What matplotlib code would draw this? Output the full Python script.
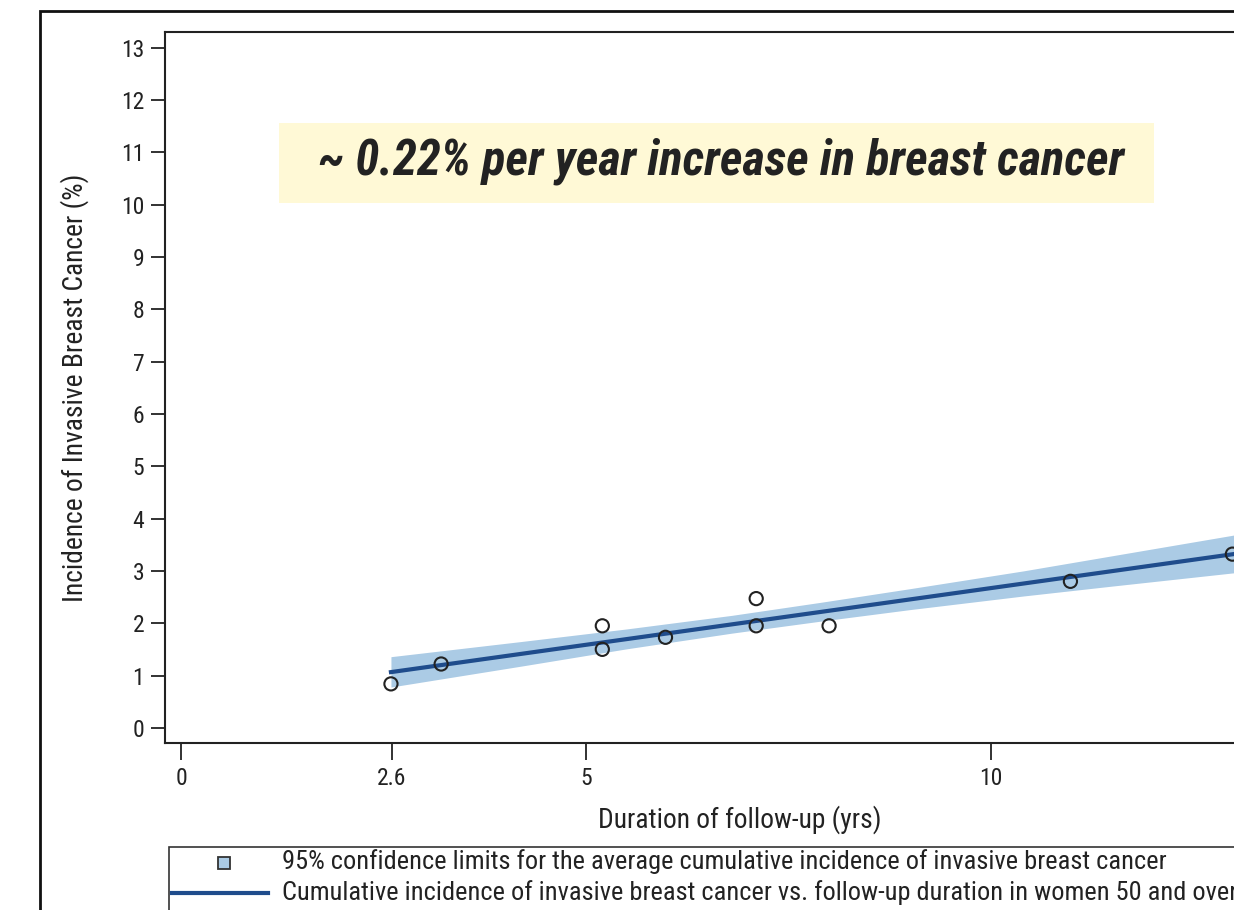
import numpy as np
import matplotlib.pyplot as plt
from matplotlib.patches import Rectangle
from matplotlib.lines import Line2D

# observed cumulative incidence points (follow-up yrs, %)
obs_x = [2.59, 3.21, 5.20, 5.20, 5.98, 7.10, 7.10, 8.00, 10.98, 12.98]
obs_y = [0.84, 1.22, 1.95, 1.50, 1.73, 2.47, 1.95, 1.95, 2.80, 3.32]

# fitted line end points
fit_x = [2.59, 13.5]
fit_y = [1.065, 3.43]

# 95% confidence band
band_x = [2.59, 4.2, 5.5, 6.8, 7.9, 9.0, 10.4, 11.5, 12.98, 13.5]
band_lo = [0.78, 1.18, 1.51, 1.81, 2.04, 2.26, 2.52, 2.71, 2.96, 3.04]
band_hi = [1.36, 1.65, 1.89, 2.15, 2.40, 2.66, 3.00, 3.29, 3.68, 3.82]

xticks = [0, 2.6, 5, 10]
xtick_labels = ['0', '2.6', '5', '10']
yticks = list(range(0, 14))

band_color = '#abcbe5'
line_color = '#1f4c8c'
txt = '#222222'

W, H = 1234, 910
fig = plt.figure(figsize=(W / 100, H / 100), dpi=100)
plt.rcParams['font.family'] = ['Roboto Condensed', 'Liberation Sans', 'DejaVu Sans']

ax = fig.add_axes([165 / W, (H - 743) / H, 1150 / W, 711 / H])
ax.fill_between(band_x, band_lo, band_hi, color=band_color, linewidth=0, zorder=1)
ax.plot(fit_x, fit_y, color=line_color, linewidth=3, zorder=2)
ax.scatter(obs_x, obs_y, s=90, facecolors='none', edgecolors=txt,
           linewidths=1.5, zorder=3)

ax.set_xlim(-0.2, 14)
ax.set_ylim(-0.29, 13.30)
ax.set_xticks(xticks)
ax.set_xticklabels(xtick_labels)
ax.set_yticks(yticks)
ax.tick_params(axis='both', labelsize=17, colors=txt, width=1.3)
ax.tick_params(axis='x', length=12, pad=5)
ax.tick_params(axis='y', length=10, pad=5)
for s in ax.spines.values():
    s.set_linewidth(1.5)
    s.set_color(txt)

ax.set_xlabel('Duration of follow-up (yrs)', fontsize=19.8, labelpad=11, color=txt)
ax.set_ylabel('Incidence of Invasive Breast Cancer (%)', fontsize=19.8, labelpad=23,
              color=txt)

# annotation box
fig.add_artist(Rectangle((279 / W, (H - 203) / H), 875 / W, 80 / H,
                         transform=fig.transFigure, facecolor='#fff9d6',
                         edgecolor='none'))
fig.text(721 / W, (H - 161) / H, '~ 0.22% per year increase in breast cancer',
         fontsize=35, style='italic', weight='bold', color=txt,
         ha='center', va='center')

# outer frame
fig.add_artist(Rectangle((40 / W, -0.1), 1.2, (H - 11) / H + 0.1,
                         transform=fig.transFigure, facecolor='none',
                         edgecolor='#111111', linewidth=2))

# legend box (runs off the right and bottom edges, as in the source)
fig.add_artist(Rectangle((169 / W, -0.1), 1.2, (H - 847) / H + 0.1,
                         transform=fig.transFigure, facecolor='none',
                         edgecolor='#333333', linewidth=1.2))
fig.add_artist(Rectangle((218 / W, (H - 869) / H), 12 / W, 12 / H,
                         transform=fig.transFigure, facecolor=band_color,
                         edgecolor='#333333', linewidth=1.3))
fig.add_artist(Line2D([172 / W, 268 / W], [(H - 893) / H] * 2,
                      transform=fig.transFigure, color=line_color, linewidth=3))
fig.text(282 / W, (H - 862) / H,
         '95% confidence limits for the average cumulative incidence of invasive breast cancer',
         fontsize=19, color=txt, va='center')
fig.text(282 / W, (H - 893) / H,
         'Cumulative incidence of invasive breast cancer vs. follow-up duration in women 50 and over',
         fontsize=19, color=txt, va='center')

fig.savefig('out.png', dpi=100)
plt.close()
